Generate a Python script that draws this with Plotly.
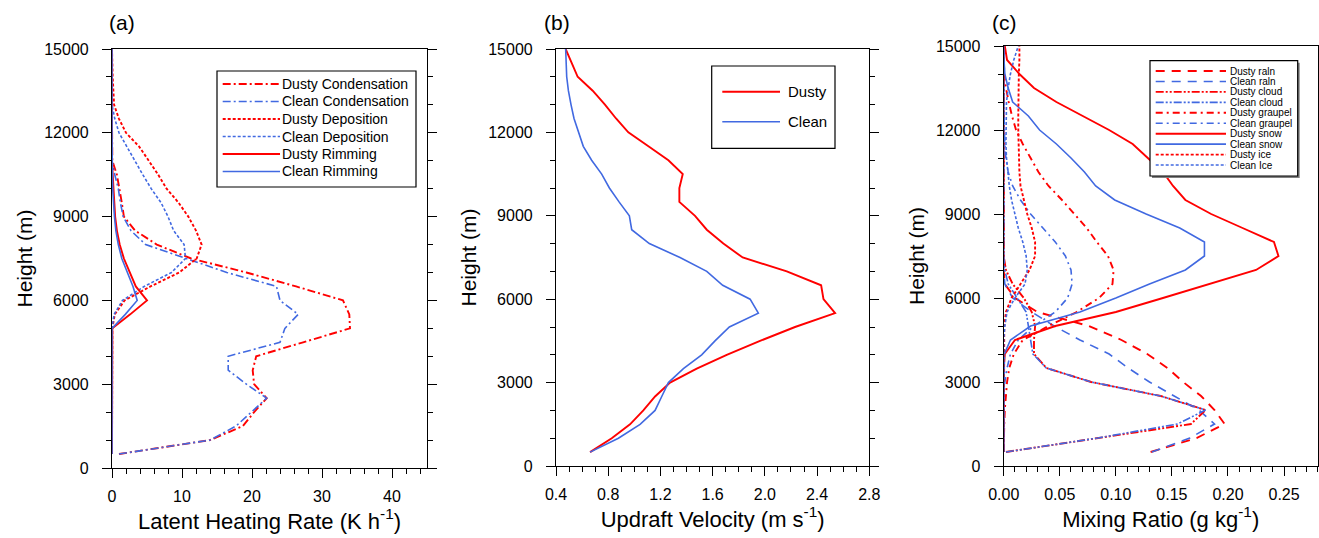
import plotly.graph_objects as go

W, HP = 1319, 538
FONT = "Liberation Sans, Arial, Helvetica, sans-serif"
RED = "#FF0000"
BLUE = "#4169E1"

# ---------------- data ----------------
heights = [500, 1000, 1500, 2000, 2500, 3000, 3500, 4000, 4500, 5000,
           5500, 6000, 6500, 7000, 7500, 8000, 8500, 9000, 9500, 10000,
           10500, 11000, 11500, 12000, 12500, 13000, 13500, 14000, 14500, 15000]

# (a) latent heating rate (K/h)
dusty_condensation = [1.0, 14.0, 18.7, 20.3, 22.1, 20.3, 20.1, 20.6, 27.3, 34.0,
                      33.9, 33.0, 26.3, 19.2, 11.3, 6.4, 3.3, 1.7, 1.4, 1.1,
                      0.7, 0.05, 0, 0, 0, 0, 0, 0, 0, 0]
clean_condensation = [1.0, 14.0, 17.7, 19.9, 22.1, 19.2, 16.6, 16.6, 24.0, 24.7,
                      26.6, 24.0, 23.5, 16.4, 10.5, 4.8, 2.7, 1.6, 1.2, 0.9,
                      0.4, 0, 0, 0, 0, 0, 0, 0, 0, 0]
dusty_deposition = [0, 0, 0, 0, 0, 0, 0, 0, 0, 0.05,
                    0.4, 1.8, 5.5, 9.6, 12.1, 12.8, 12.0, 10.9, 9.5, 7.8,
                    6.6, 5.3, 3.9, 2.0, 1.0, 0.3, 0.15, 0.1, 0.05, 0]
clean_deposition = [0, 0, 0, 0, 0, 0, 0, 0, 0, 0,
                    0.3, 1.5, 4.6, 8.5, 10.5, 10.3, 8.8, 8.0, 7.0, 5.6,
                    4.4, 3.3, 2.2, 1.0, 0.4, 0, 0, 0, 0, 0]
dusty_rimming = [0, 0, 0, 0, 0, 0, 0, 0, 0, 0.05,
                 2.6, 5.0, 3.4, 2.6, 1.7, 1.1, 0.7, 0.45, 0.3, 0.2,
                 0.1, 0, 0, 0, 0, 0, 0, 0, 0, 0]
clean_rimming = [0, 0, 0, 0, 0, 0, 0, 0, 0, 0,
                 1.9, 3.6, 3.0, 2.2, 1.4, 0.9, 0.55, 0.35, 0.2, 0.1,
                 0.05, 0, 0, 0, 0, 0, 0, 0, 0, 0]

# (b) updraft velocity (m/s)
dusty_updraft = [0.661, 0.827, 0.967, 1.069, 1.159, 1.274, 1.478, 1.708, 1.963, 2.231,
                 2.538, 2.449, 2.431, 2.168, 1.830, 1.682, 1.555, 1.465, 1.345, 1.345,
                 1.371, 1.261, 1.108, 0.954, 0.860, 0.775, 0.681, 0.566, 0.520, 0.474]
clean_updraft = [0.661, 0.878, 1.044, 1.159, 1.210, 1.261, 1.376, 1.516, 1.618, 1.728,
                 1.950, 1.887, 1.677, 1.555, 1.350, 1.115, 0.980, 0.962, 0.883, 0.809,
                 0.750, 0.673, 0.609, 0.571, 0.538, 0.515, 0.495, 0.482, 0.477, 0.474]

# (c) mixing ratio (g/kg)
dusty_rain = [0.131, 0.172, 0.197, 0.188, 0.176, 0.160, 0.146, 0.128, 0.105, 0.076,
              0.030, 0.010, 0.001, 0, 0, 0, 0, 0, 0, 0,
              0, 0, 0, 0, 0, 0, 0, 0, 0, 0]
clean_rain = [0.132, 0.166, 0.188, 0.174, 0.152, 0.130, 0.111, 0.094, 0.068, 0.045,
              0.025, 0.008, 0.001, 0, 0, 0, 0, 0, 0, 0,
              0, 0, 0, 0, 0, 0, 0, 0, 0, 0]
dusty_cloud = [0.002, 0.085, 0.167, 0.180, 0.140, 0.078, 0.038, 0.027, 0.027, 0.028,
               0.025, 0.018, 0.008, 0.002, 0, 0, 0, 0, 0, 0,
               0, 0, 0, 0, 0, 0, 0, 0, 0, 0]
clean_cloud = [0.002, 0.084, 0.155, 0.180, 0.140, 0.078, 0.038, 0.026, 0.024, 0.022,
               0.020, 0.012, 0.004, 0.001, 0, 0, 0, 0, 0, 0,
               0, 0, 0, 0, 0, 0, 0, 0, 0, 0]
dusty_graupel = [0, 0, 0.0005, 0.001, 0.002, 0.003, 0.005, 0.009, 0.017, 0.040,
                 0.065, 0.085, 0.097, 0.098, 0.093, 0.083, 0.074, 0.063, 0.052, 0.040,
                 0.031, 0.024, 0.017, 0.011, 0.0074, 0.0045, 0.002, 0.0005, 0, 0]
clean_graupel = [0, 0, 0, 0, 0, 0.001, 0.003, 0.006, 0.013, 0.027,
                 0.046, 0.057, 0.061, 0.060, 0.055, 0.046, 0.035, 0.024, 0.015, 0.008,
                 0.004, 0.002, 0.001, 0.0005, 0, 0, 0, 0, 0, 0]
dusty_snow = [0, 0, 0, 0, 0, 0, 0, 0.001, 0.010, 0.046,
              0.100, 0.142, 0.183, 0.225, 0.245, 0.241, 0.213, 0.185, 0.162, 0.151,
              0.142, 0.128, 0.115, 0.094, 0.071, 0.047, 0.027, 0.014, 0.003, 0.001]
clean_snow = [0, 0, 0, 0, 0, 0, 0, 0.0006, 0.006, 0.024,
              0.068, 0.100, 0.130, 0.162, 0.179, 0.179, 0.157, 0.127, 0.099, 0.082,
              0.072, 0.060, 0.047, 0.032, 0.022, 0.008, 0.004, 0.001, 0.0003, 0]
dusty_ice = [0, 0, 0, 0, 0, 0, 0, 0, 0, 0.0005,
             0.002, 0.007, 0.015, 0.023, 0.028, 0.028, 0.025, 0.021, 0.018, 0.015,
             0.014, 0.0135, 0.013, 0.013, 0.013, 0.013, 0.013, 0.0135, 0.014, 0.014]
clean_ice = [0, 0, 0, 0, 0, 0, 0, 0, 0, 0.001,
             0.003, 0.010, 0.019, 0.021, 0.020, 0.017, 0.013, 0.010, 0.007, 0.005,
             0.0035, 0.0025, 0.002, 0.002, 0.002, 0.0025, 0.004, 0.006, 0.009, 0.013]

# tick labels
y_ticks = [0, 3000, 6000, 9000, 12000, 15000]
y_ticklabels = ["0", "3000", "6000", "9000", "12000", "15000"]
xa_ticks = [0, 10, 20, 30, 40]
xa_ticklabels = ["0", "10", "20", "30", "40"]
xb_ticks = [0.4, 0.8, 1.2, 1.6, 2.0, 2.4, 2.8]
xb_ticklabels = ["0.4", "0.8", "1.2", "1.6", "2.0", "2.4", "2.8"]
xc_ticks = [0.00, 0.05, 0.10, 0.15, 0.20, 0.25]
xc_ticklabels = ["0.00", "0.05", "0.10", "0.15", "0.20", "0.25"]

# ---------------- styles ----------------
DASHDOT = "8px,3px,2px,3px"
DOT = "3px,2px"
LONGDASH = "9px,7px"
DASHDOTDOT = "8px,2px,2px,2px,2px,2px"
GRAUPEL = "7px,4px,2px,4px"

series_a = [
    ("Dusty Condensation", dusty_condensation, RED, DASHDOT),
    ("Clean Condensation", clean_condensation, BLUE, DASHDOT),
    ("Dusty Deposition", dusty_deposition, RED, DOT),
    ("Clean Deposition", clean_deposition, BLUE, DOT),
    ("Dusty Rimming", dusty_rimming, RED, "solid"),
    ("Clean Rimming", clean_rimming, BLUE, "solid"),
]
series_b = [
    ("Dusty", dusty_updraft, RED, "solid"),
    ("Clean", clean_updraft, BLUE, "solid"),
]
series_c = [
    ("Dusty raln", dusty_rain, RED, LONGDASH),
    ("Clean raln", clean_rain, BLUE, LONGDASH),
    ("Dusty cloud", dusty_cloud, RED, DASHDOTDOT),
    ("Clean cloud", clean_cloud, BLUE, DASHDOTDOT),
    ("Dusty graupel", dusty_graupel, RED, GRAUPEL),
    ("Clean graupel", clean_graupel, BLUE, GRAUPEL),
    ("Dusty snow", dusty_snow, RED, "solid"),
    ("Clean snow", clean_snow, BLUE, "solid"),
    ("Dusty ice", dusty_ice, RED, DOT),
    ("Clean Ice", clean_ice, BLUE, DOT),
]


def lw(color):
    return 1.9 if color == RED else 1.6


fig = go.Figure()

panels = [
    (series_a, "x", "y"),
    (series_b, "x2", "y2"),
    (series_c, "x3", "y3"),
]
for series, xr, yr in panels:
    for name, vals, color, dash in series:
        fig.add_trace(go.Scatter(
            x=vals, y=heights, mode="lines", name=name,
            line=dict(color=color, width=lw(color), dash=dash),
            xaxis=xr, yaxis=yr, showlegend=False, hoverinfo="skip"))


def px(x):
    return x / W


def py(y):
    return 1 - y / HP


tickfont = dict(family=FONT, size=16, color="black")
titlefont = dict(family=FONT, size=21, color="black")
xtitlefont = dict(family=FONT, size=22, color="black")


def xaxis(dom, rng, tv, tt, minor_vals, title, anchor):
    return dict(domain=dom, range=rng, anchor=anchor, tickmode="array",
                tickvals=tv, ticktext=tt, ticks="outside", ticklen=9,
                tickwidth=1, tickcolor="black", showline=True,
                linecolor="black", linewidth=1.2, mirror=True,
                showgrid=False, zeroline=False, tickfont=tickfont,
                ticklabelstandoff=5, automargin=False,
                minor=dict(tickvals=minor_vals, ticks="outside", ticklen=5,
                           tickwidth=1, tickcolor="black", showgrid=False),
                title=dict(text=title, font=xtitlefont, standoff=8))


def yaxis(dom, anchor):
    return dict(domain=dom, range=[0, 15000], anchor=anchor, tickmode="array",
                tickvals=y_ticks, ticktext=y_ticklabels, ticks="outside",
                ticklen=9, tickwidth=1, tickcolor="black", showline=True,
                linecolor="black", linewidth=1.2, mirror="ticks",
                showgrid=False, zeroline=False, tickfont=tickfont,
                ticklabelstandoff=10, automargin=False,
                minor=dict(tickvals=[v * 1000 for v in range(0, 16)],
                           ticks="outside", ticklen=5, tickwidth=1,
                           tickcolor="black", showgrid=False),
                title=dict(text="Height (m)", font=titlefont, standoff=5))


minor_a = [2 * i for i in range(0, 23)]
minor_b = [round(0.4 + 0.1 * i, 2) for i in range(0, 25)]
minor_c = [round(0.01 * i, 2) for i in range(0, 29)]

fig.update_layout(
    width=W, height=HP, margin=dict(l=0, r=0, t=0, b=0, autoexpand=False),
    paper_bgcolor="white", plot_bgcolor="white", showlegend=False,
    font=dict(family=FONT, color="black"),
    xaxis=xaxis([px(112), px(427)], [0, 45], xa_ticks, xa_ticklabels, minor_a,
                "Latent Heating Rate (K h<sup>-1</sup>)", "y"),
    yaxis=yaxis([py(468), py(49)], "x"),
    xaxis2=xaxis([px(556), px(869.3)], [0.4, 2.8], xb_ticks, xb_ticklabels, minor_b,
                 "Updraft Velocity (m s<sup>-1</sup>)", "y2"),
    yaxis2=yaxis([py(466), py(49)], "x2"),
    xaxis3=xaxis([px(1003.7), px(1317.7)], [0, 0.28], xc_ticks, xc_ticklabels, minor_c,
                 "Mixing Ratio (g kg<sup>-1</sup>)", "y3"),
    yaxis3=yaxis([py(466), py(46)], "x3"),
)

shapes = []
annotations = []

# panel labels
for label, xl in [("(a)", 107), ("(b)", 542), ("(c)", 990)]:
    annotations.append(dict(text=label, x=px(xl), y=py(22), xref="paper", yref="paper",
                            xanchor="left", yanchor="middle", showarrow=False,
                            font=dict(family=FONT, size=21, color="black")))


def legend(series, box, y0, dy, lx0, lx1, tx, fsize, shadow=False):
    bx0, by0, bx1, by1 = box
    if shadow:
        shapes.append(dict(type="rect", xref="paper", yref="paper",
                           x0=px(bx0 + 2), x1=px(bx1 + 2), y0=py(by1 + 2), y1=py(by0 + 2),
                           line=dict(width=0), fillcolor="#808080", layer="above"))
    shapes.append(dict(type="rect", xref="paper", yref="paper",
                       x0=px(bx0), x1=px(bx1), y0=py(by1), y1=py(by0),
                       line=dict(color="black", width=1.2), fillcolor="white",
                       layer="above"))
    for i, (name, vals, color, dash) in enumerate(series):
        yy = y0 + i * dy
        shapes.append(dict(type="line", xref="paper", yref="paper",
                           x0=px(lx0), x1=px(lx1), y0=py(yy), y1=py(yy),
                           line=dict(color=color, width=lw(color), dash=dash),
                           layer="above"))
        annotations.append(dict(text=name, x=px(tx), y=py(yy), xref="paper", yref="paper",
                                xanchor="left", yanchor="middle", showarrow=False,
                                font=dict(family=FONT, size=fsize, color="black")))


legend(series_a, (217, 71, 416, 187), 84, 17.5, 222.7, 280, 280, 14)
legend(series_b, (711.7, 66, 835, 148.3), 91.7, 30, 722.3, 780, 786, 15)
legend(series_c, (1150, 60.7, 1297.7, 176), 71, 10.45, 1155.7, 1226, 1228, 10, shadow=True)

fig.update_layout(shapes=shapes, annotations=annotations)

fig.write_html("out.html")
